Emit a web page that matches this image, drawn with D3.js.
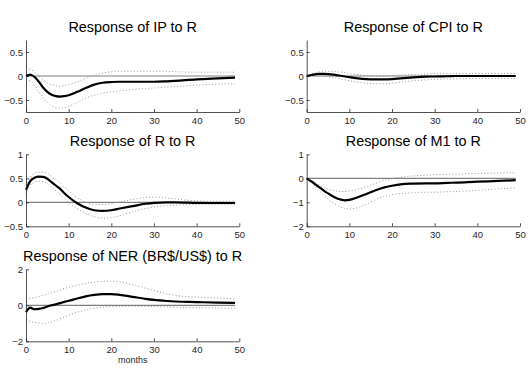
<!DOCTYPE html>
<html>
<head>
<meta charset="utf-8">
<script src="https://cdn.jsdelivr.net/npm/d3@7"></script>
<style>
  body { margin: 0; background: #fff; }
  svg { display: block; font-family: "Liberation Sans", Arial, sans-serif; }
</style>
</head>
<body>
<div id="chart"></div>
<script>
const months = [0, 1, 2, 3, 4, 5, 6, 7, 8, 9, 10, 12, 14, 16, 18, 20, 22, 25, 28, 30, 33, 35, 40, 45, 49]

const titles = ['Response of IP to R', 'Response of CPI to R', 'Response of R to R',
    'Response of M1 to R', 'Response of NER (BR$/US$) to R']
const yDomains = [[-0.75, 0.75], [-0.75, 0.75], [-0.5, 1], [-2, 1], [-2, 2]]
const yTicks = [[-0.5, 0, 0.5], [-0.5, 0, 0.5], [-0.5, 0, 0.5, 1], [-2, -1, 0, 1], [-2, 0, 2]]
const xTicks = [0, 10, 20, 30, 40, 50]

const ipMean = [0, 0.03, -0.02, -0.12, -0.24, -0.33, -0.39, -0.42, -0.43, -0.42, -0.40, -0.33, -0.25, -0.18, -0.14, -0.125, -0.12, -0.12, -0.12, -0.12, -0.11, -0.10, -0.07, -0.05, -0.035]
const ipUpper = [0.15, 0.14, 0.08, 0.0, -0.08, -0.14, -0.18, -0.2, -0.21, -0.2, -0.18, -0.12, -0.05, 0.01, 0.06, 0.09, 0.1, 0.1, 0.1, 0.1, 0.1, 0.09, 0.08, 0.08, 0.08]
const ipLower = [-0.12, -0.1, -0.2, -0.33, -0.45, -0.55, -0.62, -0.66, -0.67, -0.66, -0.63, -0.55, -0.46, -0.4, -0.36, -0.33, -0.31, -0.28, -0.26, -0.25, -0.23, -0.22, -0.19, -0.17, -0.16]

const cpiMean = [0, 0.02, 0.035, 0.045, 0.045, 0.04, 0.03, 0.02, 0.005, -0.01, -0.025, -0.05, -0.065, -0.07, -0.07, -0.065, -0.05, -0.03, -0.015, -0.01, -0.005, 0, 0, 0, 0]
const cpiUpper = [0.0, 0.04, 0.07, 0.09, 0.1, 0.1, 0.1, 0.09, 0.08, 0.07, 0.05, 0.03, 0.01, 0.0, 0.0, 0.01, 0.02, 0.03, 0.04, 0.05, 0.05, 0.05, 0.05, 0.05, 0.05]
const cpiLower = [0, 0.0, 0.0, 0.0, -0.01, -0.02, -0.03, -0.04, -0.06, -0.08, -0.1, -0.13, -0.15, -0.16, -0.16, -0.15, -0.13, -0.1, -0.08, -0.07, -0.06, -0.06, -0.05, -0.05, -0.05]

const rMean = [0.26, 0.44, 0.51, 0.535, 0.53, 0.49, 0.42, 0.35, 0.28, 0.19, 0.11, -0.02, -0.11, -0.165, -0.18, -0.165, -0.13, -0.08, -0.03, -0.01, 0, 0, -0.01, -0.015, -0.015]
const rUpper = [0.35, 0.52, 0.6, 0.63, 0.63, 0.6, 0.54, 0.47, 0.4, 0.32, 0.24, 0.1, 0.0, -0.04, -0.05, -0.03, 0.01, 0.06, 0.1, 0.11, 0.09, 0.07, 0.03, 0.02, 0.02]
const rLower = [0.18, 0.36, 0.42, 0.44, 0.43, 0.39, 0.31, 0.24, 0.16, 0.08, 0.0, -0.13, -0.23, -0.3, -0.33, -0.32, -0.28, -0.2, -0.13, -0.1, -0.07, -0.06, -0.04, -0.04, -0.04]

const m1Mean = [0, -0.12, -0.25, -0.38, -0.51, -0.63, -0.74, -0.83, -0.89, -0.92, -0.9, -0.79, -0.65, -0.51, -0.39, -0.31, -0.25, -0.22, -0.21, -0.21, -0.19, -0.18, -0.14, -0.11, -0.08]
const m1Upper = [0, -0.09, -0.18, -0.28, -0.38, -0.45, -0.5, -0.53, -0.55, -0.55, -0.53, -0.45, -0.35, -0.22, -0.1, -0.02, 0.04, 0.1, 0.13, 0.15, 0.17, 0.18, 0.2, 0.22, 0.23]
const m1Lower = [0, -0.17, -0.35, -0.53, -0.7, -0.86, -1.0, -1.11, -1.2, -1.26, -1.28, -1.22, -1.08, -0.9, -0.76, -0.68, -0.64, -0.6, -0.58, -0.58, -0.56, -0.55, -0.5, -0.44, -0.4]

const nerMean = [-0.38, -0.13, -0.22, -0.2, -0.15, -0.07, 0.0, 0.06, 0.12, 0.19, 0.25, 0.38, 0.5, 0.58, 0.62, 0.62, 0.58, 0.47, 0.36, 0.3, 0.24, 0.21, 0.18, 0.15, 0.13]
const nerUpper = [0.35, 0.38, 0.42, 0.48, 0.55, 0.62, 0.7, 0.77, 0.85, 0.93, 1.0, 1.12, 1.22, 1.29, 1.33, 1.34, 1.3, 1.15, 0.95, 0.82, 0.64, 0.55, 0.45, 0.4, 0.37]
const nerLower = [-0.8, -0.9, -0.95, -0.98, -1.0, -0.98, -0.92, -0.85, -0.75, -0.65, -0.55, -0.38, -0.25, -0.16, -0.1, -0.08, -0.06, -0.05, -0.06, -0.07, -0.09, -0.1, -0.13, -0.15, -0.16]

const means = [ipMean, cpiMean, rMean, m1Mean, nerMean]
const uppers = [ipUpper, cpiUpper, rUpper, m1Upper, nerUpper]
const lowers = [ipLower, cpiLower, rLower, m1Lower, nerLower]

const width = 531
const height = 384
const colLeft = [26, 306.7]
const rowTop = [40, 154.3, 269.3]
const plotW = 213.3
const plotH = 72

const svg = d3.select('#chart').append('svg')
    .attr('width', width)
    .attr('height', height)

const fmt = d => (d < 0 ? '\u2212' : '') + Math.abs(d)

titles.forEach((title, i) => {
    const left = colLeft[i % 2]
    const top = rowTop[Math.floor(i / 2)]
    const g = svg.append('g').attr('transform', `translate(${left},${top})`)

    const x = d3.scaleLinear().domain([0, 50]).range([0, plotW])
    const y = d3.scaleLinear().domain(yDomains[i]).range([plotH, 0])

    const pts = arr => arr.map((v, k) => [months[k], v])
    const line = d3.line()
        .x(d => x(d[0]))
        .y(d => y(d[1]))
        .curve(d3.curveMonotoneX)

    // zero line
    g.append('line')
        .attr('x1', x(0)).attr('x2', x(49))
        .attr('y1', y(0)).attr('y2', y(0))
        .attr('stroke', '#808080')
        .attr('stroke-width', 1.2)

    // confidence bands
    ;[uppers[i], lowers[i]].forEach(band => {
        g.append('path')
            .attr('d', line(pts(band)))
            .attr('fill', 'none')
            .attr('stroke', '#8c8c8c')
            .attr('stroke-width', 0.9)
            .attr('stroke-dasharray', '1,2.2')
    })

    // point response
    g.append('path')
        .attr('d', line(pts(means[i])))
        .attr('fill', 'none')
        .attr('stroke', '#000')
        .attr('stroke-width', 2.2)

    const xAxis = g.append('g')
        .attr('transform', `translate(0,${plotH})`)
        .call(d3.axisBottom(x).tickValues(xTicks).tickSizeInner(-3).tickSizeOuter(0).tickPadding(5).tickFormat(fmt))
    const yAxis = g.append('g')
        .call(d3.axisLeft(y).tickValues(yTicks[i]).tickSizeInner(-3).tickSizeOuter(0).tickPadding(3).tickFormat(fmt))

    ;[xAxis, yAxis].forEach(ax => {
        ax.attr('font-family', null).attr('font-size', null)
        ax.select('.domain').attr('stroke', '#262626').attr('stroke-width', 0.8)
        ax.selectAll('.tick line').attr('stroke', '#262626').attr('stroke-width', 0.8)
        ax.selectAll('.tick text').attr('fill', '#262626').style('font-size', '9.5px')
    })

    g.append('text')
        .attr('x', plotW / 2)
        .attr('y', -8)
        .attr('text-anchor', 'middle')
        .style('font-size', '14.4px')
        .attr('fill', '#000')
        .text(title)

    if (i === 4) {
        g.append('text')
            .attr('x', plotW / 2)
            .attr('y', plotH + 22)
            .attr('text-anchor', 'middle')
            .style('font-size', '9px')
            .attr('fill', '#262626')
            .text('months')
    }
})
</script>
</body>
</html>
